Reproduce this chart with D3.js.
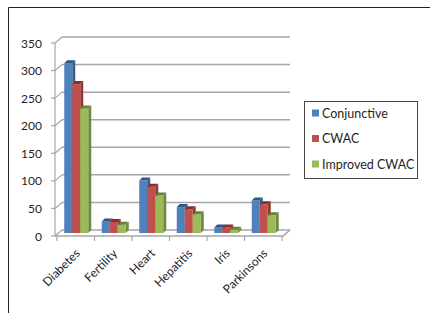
<!DOCTYPE html>
<html>
<head>
<meta charset="utf-8">
<title>Clustered columns</title>
<script src="https://d3js.org/d3.v7.min.js"></script>
<style>
  body { margin: 0; background: #fff; }
  text { font-family: Lato, "Open Sans", sans-serif; }
</style>
</head>
<body>
<div id="chart"></div>
<script>
// data
var categories = ["Diabetes", "Fertility", "Heart", "Hepatitis", "Iris", "Parkinsons"];
var seriesNames = ["Conjunctive", "CWAC", "Improved CWAC"];
var conjunctive = [308, 21, 95, 47, 10, 59];
var cwac = [270, 20, 84, 43, 10, 52];
var improved = [226, 15, 68, 34, 6, 32];
var yTicks = [0, 50, 100, 150, 200, 250, 300, 350];

var values = [conjunctive, cwac, improved];
var front = ["#4f81bd", "#c0504d", "#9bbb59"];
var side = ["#385d8a", "#8c3836", "#71893f"];
var top_ = ["#2f5583", "#86302e", "#6a8238"];

var width = 430, height = 313;
var depth = 7, half = 3;

var svg = d3.select("#chart").append("svg")
  .attr("width", width).attr("height", height);

svg.append("rect").attr("width", width).attr("height", height).attr("fill", "#fff");

// outer frame (only top and left visible)
svg.append("path").attr("d", "M8.5,313V7.5H430")
  .attr("fill", "none").attr("stroke", "#222").attr("stroke-width", 1);

var x = d3.scaleBand().domain(categories).range([57, 282]);
var y = d3.scaleLinear().domain([0, 350]).range([236, 43]);
var xs = d3.scaleBand().domain(seriesNames).range([0, 24]);

var x0 = 55, x1 = 283;

// gridlines on back and side walls
yTicks.forEach(function(t) {
  var yy = y(t);
  svg.append("line").attr("x1", x0 + depth).attr("x2", x1 + depth)
    .attr("y1", yy - 6).attr("y2", yy - 6)
    .attr("stroke", "#a6a6a6").attr("stroke-width", 1.5);
  svg.append("line").attr("x1", x0).attr("x2", x0 + depth)
    .attr("y1", yy).attr("y2", yy - 6)
    .attr("stroke", "#a6a6a6").attr("stroke-width", 1.2);
});

// side wall edge + floor
svg.append("line").attr("x1", x0).attr("x2", x0).attr("y1", y(350)).attr("y2", y(0))
  .attr("stroke", "#a6a6a6").attr("stroke-width", 1.2);
svg.append("path")
  .attr("d", "M" + x0 + "," + y(0) + "H" + x1 + "L" + (x1 + depth) + "," + (y(0) - 6))
  .attr("fill", "none").attr("stroke", "#a6a6a6").attr("stroke-width", 1.5);

// ticks under the floor
var bounds = categories.map(function(c) { return x(c); }).concat([282]);
bounds.forEach(function(b) {
  svg.append("line").attr("x1", b).attr("x2", b).attr("y1", y(0)).attr("y2", y(0) + 5)
    .attr("stroke", "#a6a6a6").attr("stroke-width", 1.2);
});
yTicks.forEach(function(t) {
  svg.append("line").attr("x1", x0 - 4).attr("x2", x0).attr("y1", y(t)).attr("y2", y(t))
    .attr("stroke", "#a6a6a6").attr("stroke-width", 1.2);
});

// y labels
svg.selectAll(".ylab").data(yTicks).enter().append("text")
  .attr("x", 42).attr("y", function(d) { return y(d) + 4.5; })
  .attr("text-anchor", "end").attr("font-size", 12).attr("fill", "#1f1f1f")
  .text(function(d) { return d; });

// bars (mid depth)
var yb = d3.scaleLinear().domain([0, 350]).range([233, 40]);
var bw = xs.bandwidth();
var off = (x.bandwidth() - 24) / 2;
var g = svg.append("g");
seriesNames.forEach(function(s, si) {
  categories.forEach(function(c, ci) {
    var v = values[si][ci];
    var bx = x(c) + off + xs(s) + 0.5;
    var by = yb(v);
    var base = yb(0);
    var d = half;
    g.append("polygon")
      .attr("points", [[bx + bw, by], [bx + bw + d, by - d], [bx + bw + d, base - d], [bx + bw, base]].join(" "))
      .attr("fill", side[si]);
    g.append("rect").attr("x", bx).attr("y", by).attr("width", bw).attr("height", base - by)
      .attr("fill", front[si]);
    g.append("polygon")
      .attr("points", [[bx, by], [bx + d, by - d], [bx + bw + d, by - d], [bx + bw, by]].join(" "))
      .attr("fill", top_[si]);
  });
});

// category labels
svg.selectAll(".xlab").data(categories).enter().append("text")
  .attr("text-anchor", "end").attr("font-size", 12).attr("fill", "#1f1f1f")
  .attr("transform", function(d) {
    return "translate(" + (x(d) + x.bandwidth() / 2 + 5) + ",254) rotate(-45)";
  })
  .text(function(d) { return d; });

// legend
var lg = svg.append("g").attr("transform", "translate(304,101)");
lg.append("rect").attr("x", 0.5).attr("y", 0.5).attr("width", 113).attr("height", 77)
  .attr("fill", "#fff").attr("stroke", "#444");
seriesNames.forEach(function(s, i) {
  lg.append("rect").attr("x", 8).attr("y", 8.5 + i * 25.5).attr("width", 7).attr("height", 7)
    .attr("fill", front[i]);
  lg.append("text").attr("x", 18).attr("y", 16.5 + i * 25.5)
    .attr("font-size", 12.5).attr("fill", "#1f1f1f").text(s);
});
</script>
</body>
</html>
